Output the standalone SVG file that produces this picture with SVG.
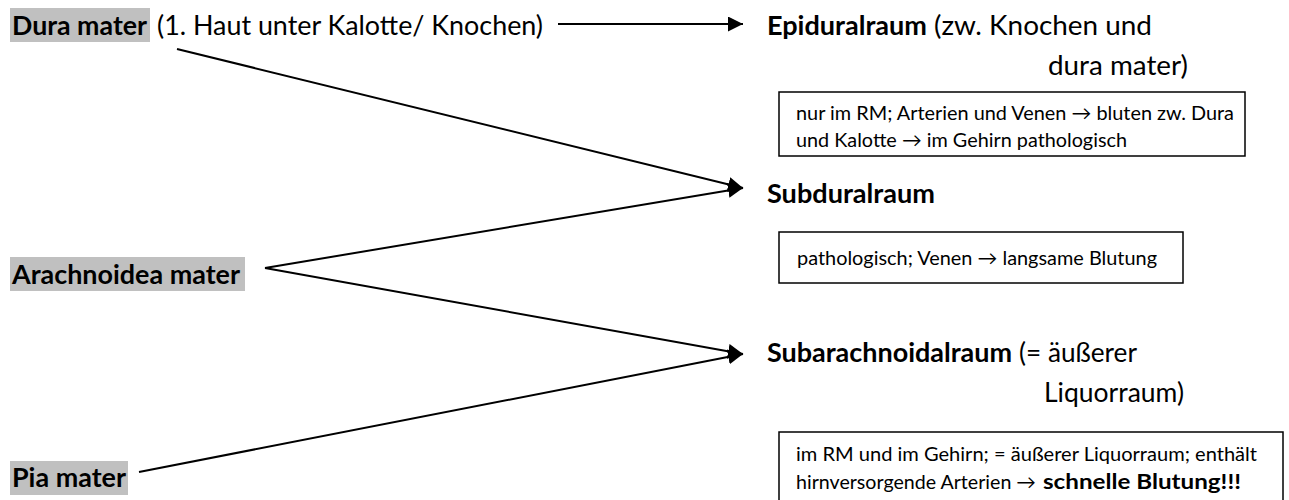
<svg xmlns="http://www.w3.org/2000/svg" width="1289" height="500" viewBox="0 0 1289 500">
<style>
text{font-family:Lato,"Open Sans","Liberation Sans",sans-serif;fill:#000}
.h{font-size:26px}
.b{font-weight:bold}
.s{font-size:19.5px}
.sb{font-size:20.5px;font-weight:bold}
.hl{fill:#c0c0c0}
.box{fill:#fff;stroke:#000;stroke-width:1.5}
.con{stroke:#000;stroke-width:2;fill:none;marker-end:url(#arr)}
</style>
<defs>
<marker id="arr" markerUnits="userSpaceOnUse" markerWidth="16" markerHeight="16" refX="15" refY="7.5" orient="auto">
<path d="M0,0 L15,7.5 L0,15 z" fill="#000"/>
</marker>
</defs>
<rect width="1289" height="500" fill="#fff"/>

<g id="connectors">
<line class="con" x1="558" y1="24" x2="743" y2="24"/>
<line class="con" x1="177" y1="49" x2="743" y2="188"/>
<line class="con" x1="265" y1="268" x2="743" y2="188"/>
<line class="con" x1="265" y1="268" x2="743" y2="354"/>
<line class="con" x1="139" y1="472" x2="743" y2="354"/>
</g>

<g id="node-dura">
<rect class="hl" x="10" y="8" width="140" height="34"/>
<text class="h b" x="12" y="35" textLength="135" lengthAdjust="spacingAndGlyphs">Dura mater</text>
<text class="h" x="157" y="35" textLength="386" lengthAdjust="spacingAndGlyphs">(1. Haut unter Kalotte/ Knochen)</text>
</g>

<g id="node-epidural">
<text class="h b" x="767" y="35" textLength="160" lengthAdjust="spacingAndGlyphs">Epiduralraum</text>
<text class="h" x="934" y="35" textLength="218" lengthAdjust="spacingAndGlyphs">(zw. Knochen und</text>
<text class="h" x="1048" y="75" textLength="140" lengthAdjust="spacingAndGlyphs">dura mater)</text>
</g>

<g id="box-epidural">
<rect class="box" x="779" y="92" width="466" height="64"/>
<text class="s" x="796" y="120" textLength="438" lengthAdjust="spacingAndGlyphs">nur im RM; Arterien und Venen → bluten zw. Dura</text>
<text class="s" x="796" y="147" textLength="331" lengthAdjust="spacingAndGlyphs">und Kalotte → im Gehirn pathologisch</text>
</g>

<g id="node-subdural">
<text class="h b" x="767" y="203" textLength="168" lengthAdjust="spacingAndGlyphs">Subduralraum</text>
</g>

<g id="box-subdural">
<rect class="box" x="779" y="232" width="404" height="51"/>
<text class="s" x="797" y="265" textLength="360" lengthAdjust="spacingAndGlyphs">pathologisch; Venen → langsame Blutung</text>
</g>

<g id="node-arachnoidea">
<rect class="hl" x="10" y="257" width="235" height="34"/>
<text class="h b" x="12" y="284" textLength="228" lengthAdjust="spacingAndGlyphs">Arachnoidea mater</text>
</g>

<g id="node-subarachnoidal">
<text class="h b" x="767" y="362" textLength="245" lengthAdjust="spacingAndGlyphs">Subarachnoidalraum</text>
<text class="h" x="1019" y="362" textLength="118" lengthAdjust="spacingAndGlyphs">(= äußerer</text>
<text class="h" x="1044" y="402" textLength="140" lengthAdjust="spacingAndGlyphs">Liquorraum)</text>
</g>

<g id="box-subarachnoidal">
<rect class="box" x="779" y="432" width="504" height="80"/>
<text class="s" x="796" y="461" textLength="461" lengthAdjust="spacingAndGlyphs">im RM und im Gehirn; = äußerer Liquorraum; enthält</text>
<text class="s" x="796" y="489" textLength="240" lengthAdjust="spacingAndGlyphs">hirnversorgende Arterien →</text>
<text class="sb" x="1043" y="489" textLength="198" lengthAdjust="spacingAndGlyphs">schnelle Blutung!!!</text>
</g>

<g id="node-pia">
<rect class="hl" x="10" y="461" width="118" height="34"/>
<text class="h b" x="12" y="487" textLength="114" lengthAdjust="spacingAndGlyphs">Pia mater</text>
</g>
</svg>
